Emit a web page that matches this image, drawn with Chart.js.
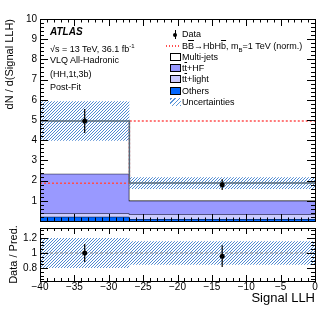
<!DOCTYPE html>
<html>
<head>
<meta charset="utf-8">
<script src="https://cdn.jsdelivr.net/npm/chart.js@4.4.1/dist/chart.umd.min.js"></script>
<style>
  body { margin: 0; background: #fff; font-family: "Liberation Sans", Arial, sans-serif; }
  #wrap { position: relative; width: 332px; height: 322px; overflow: hidden; }
  canvas { position: absolute; left: 0; }
  #top { top: 0; }
  #bot { top: 218px; }
  .t { position: absolute; font-size: 9px; line-height: 10px; white-space: nowrap; color: #000; }
  .atlas { font-weight: bold; font-style: italic; font-size: 10px; }
  .ob { text-decoration: overline; }
  .sym { position: absolute; width: 11px; height: 8px; box-sizing: border-box; }
</style>
</head>
<body>
<div id="wrap">
  <canvas id="top" width="332" height="230"></canvas>
  <canvas id="bot" width="332" height="104"></canvas>

  <div class="t atlas" style="left:50px;top:27px">ATLAS</div>
  <div class="t" style="left:50px;top:41px">&radic;s = 13 TeV, 36.1 fb<sup style="font-size:6px">-1</sup></div>
  <div class="t" style="left:50px;top:55px">VLQ All-Hadronic</div>
  <div class="t" style="left:50px;top:69px">(HH,1t,3b)</div>
  <div class="t" style="left:50px;top:82px">Post-Fit</div>

  <!-- legend -->
  <div class="sym" style="left:170px;top:30px;width:11px;height:9px">
    <div style="position:absolute;left:5px;top:0;width:1px;height:9px;background:#000"></div>
    <div style="position:absolute;left:3px;top:2.5px;width:4px;height:4px;border-radius:50%;background:#000"></div>
  </div>
  <div class="t" style="left:182px;top:29px">Data</div>
  <div class="sym" style="left:166px;top:45px;width:15px;height:1.5px;background:repeating-linear-gradient(90deg,#ff4d4d 0 1.5px,transparent 1.5px 3px)"></div>
  <div class="t" style="left:182px;top:41px">B<span class="ob">B</span>&rarr;HbH<span class="ob">b</span>, m<sub style="font-size:6px">B</sub>=1 TeV (norm.)</div>
  <div class="sym" style="left:170px;top:53px;border:1px solid #000;background:#fff"></div>
  <div class="t" style="left:182px;top:52px">Multi-jets</div>
  <div class="sym" style="left:170px;top:64px;border:1px solid #000;background:#9999ff"></div>
  <div class="t" style="left:182px;top:63px">t<span class="ob">t</span>+HF</div>
  <div class="sym" style="left:170px;top:75px;border:1px solid #000;background:#ccccff"></div>
  <div class="t" style="left:182px;top:74px">t<span class="ob">t</span>+light</div>
  <div class="sym" style="left:170px;top:87px;border:1px solid #000;background:#0066ff"></div>
  <div class="t" style="left:182px;top:86px">Others</div>
  <div class="sym" style="left:170px;top:98px;background:repeating-linear-gradient(-45deg,#5b95d8 0 1px,#fff 1px 3px)"></div>
  <div class="t" style="left:182px;top:97px">Uncertainties</div>
</div>

<script>
// Histogram data
const binEdges = [-40, -27, 0];
const dataX = [-33.5, -13.5];
const dataY = [4.95, 1.80];
const dataErr = [0.59, 0.27];
const others = [0.21, 0.10];
const ttLight = [0.17, 0.23];
const ttHF = [1.96, 0.68];
const multijets = [2.61, 0.87];
const signal = [1.87, 4.95];
const predUnc = [0.98, 0.29];

const yTicksTop = [0, 1, 2, 3, 4, 5, 6, 7, 8, 9, 10];
const xTicks = [-40, -35, -30, -25, -20, -15, -10, -5, 0];
const yTicksRatio = [0.8, 1, 1.2];

Chart.defaults.font.family = '"Liberation Sans", Arial, sans-serif';
Chart.defaults.color = '#000';

// stacked sums
const cum1 = others.map((v, i) => v);
const cum2 = cum1.map((v, i) => v + ttLight[i]);
const cum3 = cum2.map((v, i) => v + ttHF[i]);
const total = cum3.map((v, i) => v + multijets[i]);
const bandHi = total.map((v, i) => v + predUnc[i]);
const bandLo = total.map((v, i) => v - predUnc[i]);
const ratio = dataY.map((v, i) => v / total[i]);
const ratioErr = dataErr.map((v, i) => v / total[i]);
const rBandHi = total.map((v, i) => 1 + predUnc[i] / v);
const rBandLo = total.map((v, i) => 1 - predUnc[i] / v);

// histogram points for stepped lines
function steps(vals) {
    const pts = vals.map((v, i) => ({ x: binEdges[i], y: v }));
    pts.push({ x: binEdges[binEdges.length - 1], y: vals[vals.length - 1] });
    return pts;
}

function hatch() {
    const c = document.createElement('canvas');
    c.width = 3; c.height = 3;
    const g = c.getContext('2d');
    g.strokeStyle = 'rgba(60,125,205,0.9)';
    g.lineWidth = 1;
    g.beginPath();
    g.moveTo(-1, 4); g.lineTo(4, -1);
    g.moveTo(-1, 1); g.lineTo(1, -1);
    g.moveTo(2, 4); g.lineTo(4, 2);
    g.stroke();
    return g.createPattern(c, 'repeat');
}

function range(a, b, s) {
    const out = [];
    for (let v = a; v <= b + 1e-9; v += s) out.push(Math.round(v * 1000) / 1000);
    return out;
}

// frame, inside ticks and error bars
const atlasStyle = {
    id: 'atlasStyle',
    afterDatasetsDraw(chart, args, opts) {
        const ctx = chart.ctx;
        const a = chart.chartArea;
        const xs = chart.scales.x, ys = chart.scales.y;
        ctx.save();
        // error bars
        chart.data.datasets.forEach((ds, i) => {
            if (!ds.yErr) return;
            const meta = chart.getDatasetMeta(i);
            ctx.strokeStyle = '#000';
            ctx.lineWidth = 1.2;
            meta.data.forEach((pt, j) => {
                const y0 = ys.getPixelForValue(ds.data[j].y - ds.yErr[j]);
                const y1 = ys.getPixelForValue(ds.data[j].y + ds.yErr[j]);
                ctx.beginPath();
                ctx.moveTo(pt.x, y0); ctx.lineTo(pt.x, y1);
                ctx.stroke();
            });
        });
        // ticks
        ctx.strokeStyle = '#000';
        ctx.lineWidth = 1;
        const tick = (vals, len, vertical) => {
            vals.forEach(v => {
                ctx.beginPath();
                if (vertical) {
                    const p = Math.round(ys.getPixelForValue(v)) + 0.5;
                    if (p < a.top - 1 || p > a.bottom + 1) return;
                    ctx.moveTo(a.left, p); ctx.lineTo(a.left + len, p);
                    ctx.moveTo(a.right, p); ctx.lineTo(a.right - len, p);
                } else {
                    const p = Math.round(xs.getPixelForValue(v)) + 0.5;
                    ctx.moveTo(p, a.bottom); ctx.lineTo(p, a.bottom - len);
                    ctx.moveTo(p, a.top); ctx.lineTo(p, a.top + len);
                }
                ctx.stroke();
            });
        };
        tick(opts.yMinor, opts.yLen / 2, true);
        tick(opts.yMajor, opts.yLen, true);
        tick(range(-40, 0, 1), opts.xLen / 2, false);
        tick(xTicks, opts.xLen, false);
        ctx.strokeRect(Math.round(a.left) + 0.5, Math.round(a.top) + 0.5,
            Math.round(a.right - a.left), Math.round(a.bottom - a.top));
        ctx.restore();
    }
};

const line = (data, extra) => Object.assign({
    data: data,
    stepped: true,
    pointRadius: 0,
    borderWidth: 0,
    fill: false
}, extra);

// upper panel
new Chart(document.getElementById('top'), {
    type: 'line',
    data: {
        datasets: [
            line(steps(cum1), { fill: 'origin', backgroundColor: '#0066ff', borderColor: '#000', borderWidth: 1, order: 10 }),
            line(steps(cum2), { fill: 0, backgroundColor: '#ccccff', borderColor: '#3a3a5a', borderWidth: 1.2, order: 9 }),
            line(steps(cum3), { fill: 1, backgroundColor: '#9999ff', borderColor: '#000', borderWidth: 1.2, order: 8 }),
            line(steps(total), { fill: 2, backgroundColor: '#ffffff', order: 7 }),
            line(steps(signal), { borderColor: '#ff4d4d', borderWidth: 1.5, borderDash: [2, 2], order: 5 }),
            line(steps(bandHi), { order: 4 }),
            line(steps(bandLo), { fill: 5, backgroundColor: hatch(), order: 4 }),
            line(steps(total), { borderColor: '#55697a', borderWidth: 1.5, order: 3 }),
            {
                data: dataX.map((x, i) => ({ x: x, y: dataY[i] })),
                yErr: dataErr,
                showLine: false,
                pointRadius: 2.5,
                pointBackgroundColor: '#000',
                pointBorderWidth: 0,
                order: 1
            }
        ]
    },
    options: {
        responsive: false,
        animation: false,
        layout: { padding: { top: 19, right: 17, bottom: 6, left: 0 } },
        plugins: {
            legend: { display: false },
            tooltip: { enabled: false },
            atlasStyle: { yMajor: yTicksTop, yMinor: range(0, 10, 0.2), yLen: 8, xLen: 7 }
        },
        scales: {
            x: { type: 'linear', min: -40, max: 0, display: false },
            y: {
                min: 0, max: 10,
                afterFit: s => { s.width = 40; },
                afterBuildTicks: s => { s.ticks = yTicksTop.map(v => ({ value: v })); },
                grid: { display: false, drawTicks: false },
                border: { display: false },
                ticks: { padding: 3, font: { size: 10 }, callback: v => v === 0 ? '' : v },
                title: { display: true, text: 'dN / d(Signal LLH)', align: 'end', font: { size: 11 }, padding: { top: 3 } }
            }
        }
    },
    plugins: [atlasStyle]
});

// ratio panel
new Chart(document.getElementById('bot'), {
    type: 'line',
    data: {
        datasets: [
            line(steps(rBandHi), { order: 4 }),
            line(steps(rBandLo), { fill: 0, backgroundColor: hatch(), order: 4 }),
            line([{ x: -40, y: 1 }, { x: 0, y: 1 }], { stepped: false, borderColor: '#888', borderWidth: 1, borderDash: [3, 2], order: 3 }),
            {
                data: dataX.map((x, i) => ({ x: x, y: ratio[i] })),
                yErr: ratioErr,
                showLine: false,
                pointRadius: 2.5,
                pointBackgroundColor: '#000',
                pointBorderWidth: 0,
                order: 1
            }
        ]
    },
    options: {
        responsive: false,
        animation: false,
        layout: { padding: { top: 10, right: 17, bottom: 0, left: 0 } },
        plugins: {
            legend: { display: false },
            tooltip: { enabled: false },
            atlasStyle: { yMajor: yTicksRatio, yMinor: range(0.65, 1.3, 0.05), yLen: 8, xLen: 6 }
        },
        scales: {
            x: {
                type: 'linear', min: -40, max: 0,
                afterFit: s => { s.height = 41; },
                afterBuildTicks: s => { s.ticks = xTicks.map(v => ({ value: v })); },
                grid: { display: false, drawTicks: false },
                border: { display: false },
                ticks: { padding: 0, font: { size: 10 }, maxRotation: 0, callback: v => v === 0 ? '0' : '\u2212' + Math.abs(v) },
                title: { display: true, text: 'Signal LLH', align: 'end', font: { size: 13 }, padding: { bottom: 16 } }
            },
            y: {
                min: 0.63, max: 1.33,
                afterFit: s => { s.width = 40; },
                afterBuildTicks: s => { s.ticks = yTicksRatio.map(v => ({ value: v })); },
                grid: { display: false, drawTicks: false },
                border: { display: false },
                ticks: { padding: 3, font: { size: 10 }, callback: v => String(v) },
                title: { display: true, text: 'Data / Pred.', align: 'center', font: { size: 11 }, padding: { top: 7 } }
            }
        }
    },
    plugins: [atlasStyle]
});
</script>
</body>
</html>
